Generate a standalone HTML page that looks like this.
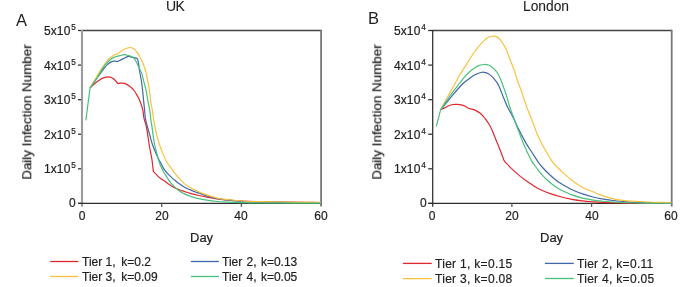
<!DOCTYPE html>
<html><head><meta charset="utf-8"><style>
html,body{margin:0;padding:0;background:#fff;}
body{width:685px;height:287px;position:relative;overflow:hidden;font-family:"Liberation Sans",sans-serif;color:#1e1e1e;}
svg{position:absolute;left:0;top:0;}
.t{position:absolute;white-space:nowrap;line-height:1;will-change:transform;-webkit-text-stroke:0.2px #1e1e1e;}
.t sup{font-size:8.2px;vertical-align:0;position:relative;top:-5.4px;margin-left:0.9px;line-height:0;letter-spacing:0;}
.ylab{transform:translate(-50%,-50%) rotate(-90deg);transform-origin:50% 50%;}
</style></head><body>
<svg width="685" height="287" viewBox="0 0 685 287">
<path d="M81.5 30.5 H321.9" fill="none" stroke="#454545" stroke-width="1.3"/>
<path d="M321.1 29.9 V206.6" stroke="#777" stroke-width="1.8"/>
<path d="M82.0 29.9 V206.7" stroke="#9c9c9c" stroke-width="2.1"/>
<path d="M78.0 203.4 H321.1" stroke="#2e2e2e" stroke-width="1.25"/>
<path d="M78.0 30.5 H81.0" stroke="#2e2e2e" stroke-width="1.25"/>
<path d="M78.0 65.1 H81.0" stroke="#2e2e2e" stroke-width="1.25"/>
<path d="M78.0 99.7 H81.0" stroke="#2e2e2e" stroke-width="1.25"/>
<path d="M78.0 134.2 H81.0" stroke="#2e2e2e" stroke-width="1.25"/>
<path d="M78.0 168.8 H81.0" stroke="#2e2e2e" stroke-width="1.25"/>
<path d="M78.0 203.4 H81.0" stroke="#2e2e2e" stroke-width="1.25"/>
<path d="M161.7 203.4 V206.9" stroke="#5a5a5a" stroke-width="1.3"/>
<path d="M241.4 203.4 V206.9" stroke="#5a5a5a" stroke-width="1.3"/>
<path d="M431.7 30.5 H672.1" fill="none" stroke="#454545" stroke-width="1.3"/>
<path d="M671.7 29.9 V206.6" stroke="#777" stroke-width="1.8"/>
<path d="M432.7 29.9 V206.7" stroke="#2e2e2e" stroke-width="1.25"/>
<path d="M428.2 203.4 H671.3" stroke="#2e2e2e" stroke-width="1.25"/>
<path d="M428.2 30.5 H432.2" stroke="#2e2e2e" stroke-width="1.25"/>
<path d="M428.2 65.1 H432.2" stroke="#2e2e2e" stroke-width="1.25"/>
<path d="M428.2 99.7 H432.2" stroke="#2e2e2e" stroke-width="1.25"/>
<path d="M428.2 134.2 H432.2" stroke="#2e2e2e" stroke-width="1.25"/>
<path d="M428.2 168.8 H432.2" stroke="#2e2e2e" stroke-width="1.25"/>
<path d="M428.2 203.4 H432.2" stroke="#2e2e2e" stroke-width="1.25"/>
<path d="M511.9 203.4 V206.9" stroke="#5a5a5a" stroke-width="1.3"/>
<path d="M591.6 203.4 V206.9" stroke="#5a5a5a" stroke-width="1.3"/>
<path d="M90.10 87.80 C91.73 86.27 93.37 84.55 95.00 83.20 C96.63 81.85 98.38 80.63 99.90 79.70 C101.42 78.77 102.70 78.07 104.10 77.60 C105.50 77.13 107.02 76.88 108.30 76.90 C109.58 76.92 110.75 77.23 111.80 77.70 C112.85 78.17 113.60 78.72 114.60 79.70 C115.60 80.68 116.73 82.30 117.80 83.60 C118.60 83.47 119.33 83.27 120.20 83.20 C121.07 83.13 121.83 82.97 123.00 83.20 C124.17 83.43 125.92 83.95 127.20 84.60 C128.48 85.25 129.62 86.20 130.70 87.10 C131.78 88.00 132.62 88.58 133.70 90.00 C134.78 91.42 136.15 93.73 137.20 95.60 C138.25 97.47 139.07 98.80 140.00 101.20 C140.93 103.60 142.15 107.23 142.80 110.00 C143.45 112.77 143.33 115.13 143.90 117.80 C144.47 120.47 145.53 123.00 146.20 126.00 C146.87 129.00 147.42 132.80 147.90 135.80 C148.38 138.80 148.60 141.00 149.10 144.00 C149.60 147.00 150.42 151.13 150.90 153.80 C151.38 156.47 151.58 157.03 152.00 160.00 C152.42 162.97 152.93 167.73 153.40 171.60 C154.67 172.87 156.10 174.35 157.20 175.40 C158.30 176.45 158.83 177.00 160.00 177.90 C161.17 178.80 162.92 179.88 164.20 180.80 C165.48 181.72 166.48 182.55 167.70 183.40 C168.92 184.25 169.78 184.93 171.50 185.90 C173.22 186.87 175.75 188.23 178.00 189.20 C180.25 190.17 182.67 190.93 185.00 191.70 C187.33 192.47 189.67 193.17 192.00 193.80 C194.33 194.43 196.53 194.95 199.00 195.50 C201.47 196.05 203.75 196.53 206.80 197.10 C209.85 197.67 213.80 198.38 217.30 198.90 C220.80 199.42 223.68 199.82 227.80 200.20 C231.92 200.58 236.63 200.93 242.00 201.20 C247.37 201.47 253.67 201.65 260.00 201.80 C266.33 201.95 273.33 202.01 280.00 202.10 C286.67 202.19 293.17 202.28 300.00 202.35 C306.83 202.42 314.00 202.45 321.00 202.50" fill="none" stroke="#e3272e" stroke-width="1.2" stroke-linejoin="round"/>
<path d="M90.10 87.80 C92.90 83.87 96.28 79.08 98.50 76.00 C100.72 72.92 101.88 71.23 103.40 69.30 C104.92 67.37 106.20 65.68 107.60 64.40 C109.00 63.12 110.63 62.17 111.80 61.60 C112.97 61.03 113.67 61.20 114.60 61.00 C115.53 61.20 116.47 61.40 117.40 61.60 C118.57 61.03 119.62 60.53 120.90 59.90 C122.18 59.27 123.82 58.38 125.10 57.80 C126.38 57.22 127.55 56.52 128.60 56.40 C129.65 56.28 129.97 56.77 131.40 57.10 C132.83 57.43 135.27 57.97 137.20 58.40 C137.53 59.37 137.85 59.53 138.20 61.30 C138.55 63.07 138.95 66.72 139.30 69.00 C139.65 71.28 140.00 73.33 140.30 75.00 C140.60 76.67 140.80 77.17 141.10 79.00 C141.40 80.83 141.82 83.83 142.10 86.00 C142.38 88.17 142.57 89.70 142.80 92.00 C143.03 94.30 143.20 96.80 143.50 99.80 C143.80 102.80 144.30 107.00 144.60 110.00 C144.90 113.00 144.87 115.13 145.30 117.80 C145.73 120.47 146.42 123.00 147.20 126.00 C147.98 129.00 149.15 132.80 150.00 135.80 C150.85 138.80 151.28 141.00 152.30 144.00 C153.32 147.00 154.93 151.05 156.10 153.80 C157.27 156.55 158.38 158.72 159.30 160.50 C160.22 162.28 160.78 163.02 161.60 164.50 C162.42 165.98 162.95 167.62 164.20 169.40 C165.45 171.18 167.47 173.50 169.10 175.20 C170.73 176.90 172.42 178.25 174.00 179.60 C175.58 180.95 176.77 181.98 178.60 183.30 C180.43 184.62 182.77 186.28 185.00 187.50 C187.23 188.72 189.67 189.67 192.00 190.60 C194.33 191.53 196.67 192.27 199.00 193.10 C201.33 193.93 202.95 194.68 206.00 195.60 C209.05 196.52 213.67 197.87 217.30 198.60 C220.93 199.33 223.68 199.55 227.80 200.00 C231.92 200.45 236.63 200.98 242.00 201.30 C247.37 201.62 253.67 201.73 260.00 201.90 C266.33 202.07 269.83 202.18 280.00 202.30 C290.17 202.42 307.33 202.50 321.00 202.60" fill="none" stroke="#4068a8" stroke-width="1.2" stroke-linejoin="round"/>
<path d="M90.10 87.80 C92.43 83.87 95.12 79.32 97.10 76.00 C99.08 72.68 100.48 70.18 102.00 67.90 C103.52 65.62 105.03 63.82 106.20 62.30 C107.37 60.78 108.00 59.78 109.00 58.80 C110.00 57.82 111.33 57.07 112.20 56.40 C113.07 55.73 113.53 55.33 114.20 54.80 C115.13 54.57 116.07 54.53 117.00 54.10 C117.93 53.67 118.75 52.93 119.80 52.20 C120.85 51.47 122.13 50.37 123.30 49.70 C124.47 49.03 125.75 48.57 126.80 48.20 C127.85 47.83 128.55 47.48 129.60 47.50 C130.65 47.52 132.03 47.75 133.10 48.30 C134.17 48.85 135.07 49.75 136.00 50.80 C136.93 51.85 137.87 53.20 138.70 54.60 C139.53 56.00 140.15 57.38 141.00 59.20 C141.85 61.02 142.95 63.27 143.80 65.50 C144.65 67.73 145.45 70.00 146.10 72.60 C146.75 75.20 147.13 78.20 147.70 81.10 C148.27 84.00 149.03 86.88 149.50 90.00 C149.97 93.12 150.03 96.47 150.50 99.80 C150.97 103.13 151.82 107.00 152.30 110.00 C152.78 113.00 152.93 114.80 153.40 117.80 C153.87 120.80 154.50 125.00 155.10 128.00 C155.70 131.00 156.30 133.13 157.00 135.80 C157.70 138.47 158.40 141.23 159.30 144.00 C160.20 146.77 161.35 149.73 162.40 152.40 C163.45 155.07 164.65 158.07 165.60 160.00 C166.55 161.93 167.17 162.63 168.10 164.00 C169.03 165.37 170.10 166.68 171.20 168.20 C172.30 169.72 173.42 171.47 174.70 173.10 C175.98 174.73 177.32 176.25 178.90 178.00 C180.48 179.75 182.02 181.85 184.20 183.60 C186.38 185.35 189.53 187.10 192.00 188.50 C194.47 189.90 196.53 190.93 199.00 192.00 C201.47 193.07 203.75 193.88 206.80 194.90 C209.85 195.92 213.80 197.32 217.30 198.10 C220.80 198.88 223.68 199.12 227.80 199.60 C231.92 200.08 236.63 200.67 242.00 201.00 C247.37 201.33 253.67 201.43 260.00 201.60 C266.33 201.77 273.33 201.88 280.00 202.00 C286.67 202.12 293.17 202.22 300.00 202.30 C306.83 202.38 314.00 202.43 321.00 202.50" fill="none" stroke="#f8c23e" stroke-width="1.2" stroke-linejoin="round"/>
<path d="M85.80 120.30 C87.23 109.47 88.67 98.63 90.10 87.80 C92.80 83.87 96.10 79.25 98.20 76.00 C100.30 72.75 101.25 70.47 102.70 68.30 C104.15 66.13 105.62 64.47 106.90 63.00 C108.18 61.53 109.23 60.43 110.40 59.50 C111.57 58.57 112.73 57.95 113.90 57.40 C115.07 56.85 116.35 56.50 117.40 56.20 C118.45 55.90 118.98 55.87 120.20 55.60 C121.42 55.33 123.33 54.62 124.70 54.60 C126.07 54.58 127.35 55.20 128.40 55.50 C129.45 55.80 130.10 55.98 131.00 56.40 C131.90 56.82 132.95 57.15 133.80 58.00 C134.65 58.85 135.25 59.90 136.10 61.50 C136.95 63.10 137.98 65.70 138.90 67.60 C139.82 69.50 140.77 70.53 141.60 72.90 C142.43 75.27 143.17 78.95 143.90 81.80 C144.63 84.65 145.37 87.00 146.00 90.00 C146.63 93.00 147.10 96.63 147.70 99.80 C148.30 102.97 149.12 106.00 149.60 109.00 C150.08 112.00 150.20 114.80 150.60 117.80 C151.00 120.80 151.57 124.00 152.00 127.00 C152.43 130.00 152.77 132.88 153.20 135.80 C153.63 138.72 154.05 141.73 154.60 144.50 C155.15 147.27 155.83 149.82 156.50 152.40 C157.17 154.98 157.90 157.72 158.60 160.00 C159.30 162.28 159.88 164.15 160.70 166.10 C161.52 168.05 162.45 169.83 163.50 171.70 C164.55 173.57 165.68 175.32 167.00 177.30 C168.32 179.28 169.57 181.50 171.40 183.60 C173.23 185.70 175.73 188.15 178.00 189.90 C180.27 191.65 182.67 192.93 185.00 194.10 C187.33 195.27 190.12 196.23 192.00 196.90 C193.88 197.57 193.83 197.55 196.30 198.10 C198.77 198.65 203.30 199.63 206.80 200.20 C210.30 200.77 213.80 201.18 217.30 201.50 C220.80 201.82 223.68 201.92 227.80 202.10 C231.92 202.28 236.63 202.45 242.00 202.60 C247.37 202.75 246.83 202.92 260.00 203.00 C273.17 203.08 300.67 203.07 321.00 203.10" fill="none" stroke="#48c17a" stroke-width="1.2" stroke-linejoin="round"/>
<path d="M440.60 109.80 C441.90 109.17 443.15 108.57 444.50 107.90 C445.85 107.23 447.30 106.37 448.70 105.80 C450.10 105.23 451.50 104.75 452.90 104.50 C454.30 104.25 455.70 104.25 457.10 104.30 C458.50 104.35 460.02 104.52 461.30 104.80 C462.58 105.08 463.63 105.42 464.80 106.00 C465.97 106.58 467.07 107.77 468.30 108.30 C469.53 108.83 470.92 108.82 472.20 109.20 C473.48 109.58 474.72 109.97 476.00 110.60 C477.28 111.23 478.62 111.97 479.90 113.00 C481.18 114.03 482.72 115.70 483.70 116.80 C484.68 117.90 484.93 118.40 485.80 119.60 C486.67 120.80 487.93 122.43 488.90 124.00 C489.87 125.57 490.80 127.33 491.60 129.00 C492.40 130.67 492.97 132.17 493.70 134.00 C494.43 135.83 495.20 138.00 496.00 140.00 C496.80 142.00 497.62 143.83 498.50 146.00 C499.38 148.17 500.42 150.67 501.30 153.00 C502.18 155.33 502.97 157.67 503.80 160.00 C504.27 160.70 504.38 161.17 505.20 162.10 C506.02 163.03 507.82 164.68 508.70 165.60 C509.58 166.52 509.03 166.22 510.50 167.60 C511.97 168.98 515.75 172.35 517.50 173.90 C519.25 175.45 519.37 175.62 521.00 176.90 C522.63 178.18 525.90 180.60 527.30 181.60 C528.70 182.60 527.95 181.95 529.40 182.90 C530.85 183.85 534.15 186.17 536.00 187.30 C537.85 188.43 538.00 188.60 540.50 189.70 C543.00 190.80 547.50 192.68 551.00 193.90 C554.50 195.12 558.00 196.10 561.50 197.00 C565.00 197.90 568.48 198.65 572.00 199.30 C575.52 199.95 579.08 200.48 582.60 200.90 C586.12 201.32 589.87 201.57 593.10 201.80 C596.33 202.03 597.52 202.13 602.00 202.30 C606.48 202.47 612.83 202.67 620.00 202.80 C627.17 202.93 636.42 203.02 645.00 203.10 C653.58 203.18 662.67 203.23 671.50 203.30" fill="none" stroke="#e3272e" stroke-width="1.2" stroke-linejoin="round"/>
<path d="M440.60 109.80 C444.37 105.20 448.25 100.30 451.90 96.00 C455.55 91.70 459.63 86.88 462.50 84.00 C465.37 81.12 466.95 80.28 469.10 78.70 C471.25 77.12 473.42 75.53 475.40 74.50 C477.38 73.47 479.53 72.87 481.00 72.50 C482.47 72.13 482.97 72.10 484.20 72.30 C485.43 72.50 487.00 72.88 488.40 73.70 C489.80 74.52 491.32 75.92 492.60 77.20 C493.88 78.48 495.05 79.93 496.10 81.40 C497.15 82.87 497.63 83.23 498.90 86.00 C500.17 88.77 502.20 94.37 503.70 98.00 C505.20 101.63 506.45 104.80 507.90 107.80 C509.35 110.80 510.83 112.88 512.40 116.00 C513.97 119.12 515.85 123.50 517.30 126.50 C518.75 129.50 519.65 131.23 521.10 134.00 C522.55 136.77 524.23 140.10 526.00 143.10 C527.77 146.10 529.70 148.88 531.70 152.00 C533.70 155.12 536.12 159.13 538.00 161.80 C539.88 164.47 541.00 165.80 543.00 168.00 C545.00 170.20 547.43 172.67 550.00 175.00 C552.57 177.33 555.48 179.95 558.40 182.00 C561.32 184.05 565.23 186.02 567.50 187.30 C569.77 188.58 569.48 188.60 572.00 189.70 C574.52 190.80 579.08 192.68 582.60 193.90 C586.12 195.12 589.87 196.17 593.10 197.00 C596.33 197.83 599.10 198.37 602.00 198.90 C604.90 199.43 606.45 199.72 610.50 200.20 C614.55 200.68 620.55 201.40 626.30 201.80 C632.05 202.20 637.47 202.38 645.00 202.60 C652.53 202.82 662.67 202.93 671.50 203.10" fill="none" stroke="#4068a8" stroke-width="1.2" stroke-linejoin="round"/>
<path d="M440.60 109.80 C443.07 105.20 445.63 100.30 448.00 96.00 C450.37 91.70 452.80 87.58 454.80 84.00 C456.80 80.42 458.02 77.83 460.00 74.50 C461.98 71.17 464.73 67.08 466.70 64.00 C468.67 60.92 470.52 58.00 471.80 56.00 C473.08 54.00 473.27 53.55 474.40 52.00 C475.53 50.45 477.08 48.52 478.60 46.70 C480.12 44.88 481.87 42.67 483.50 41.10 C485.13 39.53 486.88 38.12 488.40 37.30 C489.92 36.48 491.32 36.35 492.60 36.20 C493.88 36.05 494.93 35.93 496.10 36.40 C497.27 36.87 498.43 37.75 499.60 39.00 C500.77 40.25 502.03 42.27 503.10 43.90 C504.17 45.53 505.30 47.45 506.00 48.80 C506.70 50.15 506.72 50.47 507.30 52.00 C507.88 53.53 508.37 55.03 509.50 58.00 C510.63 60.97 512.82 66.13 514.10 69.80 C515.38 73.47 516.10 76.78 517.20 80.00 C518.30 83.22 519.62 86.10 520.70 89.10 C521.78 92.10 522.68 95.00 523.70 98.00 C524.72 101.00 525.70 104.10 526.80 107.10 C527.90 110.10 529.08 112.88 530.30 116.00 C531.52 119.12 532.95 122.80 534.10 125.80 C535.25 128.80 535.98 131.12 537.20 134.00 C538.42 136.88 539.87 140.10 541.40 143.10 C542.93 146.10 544.63 149.00 546.40 152.00 C548.17 155.00 550.05 158.43 552.00 161.10 C553.95 163.77 556.10 165.92 558.10 168.00 C560.10 170.08 561.62 171.50 564.00 173.60 C566.38 175.70 569.35 178.32 572.40 180.60 C575.45 182.88 578.85 185.43 582.30 187.30 C585.75 189.17 590.15 190.53 593.10 191.80 C596.05 193.07 597.10 193.85 600.00 194.90 C602.90 195.95 607.00 197.22 610.50 198.10 C614.00 198.98 617.50 199.68 621.00 200.20 C624.50 200.72 627.12 200.88 631.50 201.20 C635.88 201.52 640.63 201.87 647.30 202.10 C653.97 202.33 663.43 202.43 671.50 202.60" fill="none" stroke="#f8c23e" stroke-width="1.2" stroke-linejoin="round"/>
<path d="M436.30 126.30 C437.73 120.80 439.17 115.30 440.60 109.80 C443.67 105.20 446.73 100.30 449.80 96.00 C452.87 91.70 456.60 87.12 459.00 84.00 C461.40 80.88 462.28 79.47 464.20 77.30 C466.12 75.13 468.83 72.48 470.50 71.00 C472.17 69.52 473.03 69.22 474.20 68.40 C475.37 67.58 475.87 66.75 477.50 66.10 C479.13 65.45 482.22 64.68 484.00 64.50 C485.78 64.32 487.12 64.75 488.20 65.00 C489.28 65.25 489.53 65.37 490.50 66.00 C491.47 66.63 492.83 67.63 494.00 68.80 C495.17 69.97 496.45 71.37 497.50 73.00 C498.55 74.63 499.37 76.43 500.30 78.60 C501.23 80.77 502.27 83.77 503.10 86.00 C503.93 88.23 504.62 90.00 505.30 92.00 C505.98 94.00 506.42 95.37 507.20 98.00 C507.98 100.63 509.02 104.80 510.00 107.80 C510.98 110.80 512.00 113.00 513.10 116.00 C514.20 119.00 515.50 122.80 516.60 125.80 C517.70 128.80 518.60 131.12 519.70 134.00 C520.80 136.88 521.95 140.10 523.20 143.10 C524.45 146.10 525.78 149.00 527.20 152.00 C528.62 155.00 530.12 158.43 531.70 161.10 C533.28 163.77 535.05 165.80 536.70 168.00 C538.35 170.20 539.62 172.08 541.60 174.30 C543.58 176.52 546.15 179.13 548.60 181.30 C551.05 183.47 554.15 185.82 556.30 187.30 C558.45 188.78 558.88 188.93 561.50 190.20 C564.12 191.47 568.48 193.58 572.00 194.90 C575.52 196.22 579.08 197.22 582.60 198.10 C586.12 198.98 589.87 199.68 593.10 200.20 C596.33 200.72 597.35 200.82 602.00 201.20 C606.65 201.58 613.83 202.18 621.00 202.50 C628.17 202.82 636.58 202.97 645.00 203.10 C653.42 203.23 662.67 203.23 671.50 203.30" fill="none" stroke="#48c17a" stroke-width="1.2" stroke-linejoin="round"/>
<path d="M50.2 261.5 H78.3" stroke="#e3272e" stroke-width="1.3"/>
<path d="M50.2 276.5 H78.3" stroke="#f8c23e" stroke-width="1.3"/>
<path d="M190.9 261.5 H218.9" stroke="#4068a8" stroke-width="1.3"/>
<path d="M190.9 276.5 H218.9" stroke="#48c17a" stroke-width="1.3"/>
<path d="M402.9 263.4 H431.8" stroke="#e3272e" stroke-width="1.3"/>
<path d="M402.9 278.6 H431.8" stroke="#f8c23e" stroke-width="1.3"/>
<path d="M544.9 263.4 H573.8" stroke="#4068a8" stroke-width="1.3"/>
<path d="M544.9 278.5 H573.8" stroke="#48c17a" stroke-width="1.3"/>
</svg>
<div class="t" style="left:15.60px;top:11.83px;font-size:16.5px;-webkit-text-stroke:0">A</div>
<div class="t" style="left:367.90px;top:10.13px;font-size:16.5px;-webkit-text-stroke:0">B</div>
<div class="t" style="left:166.00px;top:-0.55px;font-size:14px;-webkit-text-stroke:0.1px;letter-spacing:-0.6px">UK</div>
<div class="t" style="left:523.20px;top:-0.28px;font-size:13.8px;-webkit-text-stroke:0.1px">London</div>
<div class="t" style="right:609.30px;top:25.14px;font-size:12px;letter-spacing:0.1px">5x10<sup>5</sup></div>
<div class="t" style="right:609.30px;top:59.72px;font-size:12px;letter-spacing:0.1px">4x10<sup>5</sup></div>
<div class="t" style="right:609.30px;top:94.30px;font-size:12px;letter-spacing:0.1px">3x10<sup>5</sup></div>
<div class="t" style="right:609.30px;top:128.88px;font-size:12px;letter-spacing:0.1px">2x10<sup>5</sup></div>
<div class="t" style="right:609.30px;top:163.46px;font-size:12px;letter-spacing:0.1px">1x10<sup>5</sup></div>
<div class="t" style="right:609.00px;top:197.24px;font-size:12px;">0</div>
<div class="t" style="left:82.00px;top:209.84px;font-size:12px;transform:translateX(-50%);">0</div>
<div class="t" style="left:161.70px;top:209.84px;font-size:12px;transform:translateX(-50%);">20</div>
<div class="t" style="left:241.40px;top:209.84px;font-size:12px;transform:translateX(-50%);">40</div>
<div class="t" style="left:321.10px;top:209.84px;font-size:12px;transform:translateX(-50%);">60</div>
<div class="t" style="left:189.90px;top:231.30px;font-size:13px;">Day</div>
<div class="t ylab" style="left:26.60px;top:112.1px;font-size:13.4px">Daily Infection Number</div>
<div class="t" style="right:259.10px;top:25.14px;font-size:12px;letter-spacing:0.1px">5x10<sup>4</sup></div>
<div class="t" style="right:259.10px;top:59.72px;font-size:12px;letter-spacing:0.1px">4x10<sup>4</sup></div>
<div class="t" style="right:259.10px;top:94.30px;font-size:12px;letter-spacing:0.1px">3x10<sup>4</sup></div>
<div class="t" style="right:259.10px;top:128.88px;font-size:12px;letter-spacing:0.1px">2x10<sup>4</sup></div>
<div class="t" style="right:259.10px;top:163.46px;font-size:12px;letter-spacing:0.1px">1x10<sup>4</sup></div>
<div class="t" style="right:258.80px;top:197.24px;font-size:12px;">0</div>
<div class="t" style="left:432.20px;top:209.84px;font-size:12px;transform:translateX(-50%);">0</div>
<div class="t" style="left:511.90px;top:209.84px;font-size:12px;transform:translateX(-50%);">20</div>
<div class="t" style="left:591.60px;top:209.84px;font-size:12px;transform:translateX(-50%);">40</div>
<div class="t" style="left:671.30px;top:209.84px;font-size:12px;transform:translateX(-50%);">60</div>
<div class="t" style="left:540.10px;top:231.30px;font-size:13px;">Day</div>
<div class="t ylab" style="left:376.80px;top:112.1px;font-size:13.4px">Daily Infection Number</div>
<div class="t" style="left:82.00px;top:256.14px;font-size:12px;">Tier 1,&nbsp;&thinsp;k=0.2</div>
<div class="t" style="left:82.00px;top:270.64px;font-size:12px;">Tier 3,&nbsp;&thinsp;k=0.09</div>
<div class="t" style="left:222.40px;top:256.14px;font-size:12px;word-spacing:1px">Tier 2, k=0.13</div>
<div class="t" style="left:222.40px;top:270.64px;font-size:12px;word-spacing:1px">Tier 4, k=0.05</div>
<div class="t" style="left:435.00px;top:257.54px;font-size:12px;letter-spacing:0.3px">Tier 1, k=0.15</div>
<div class="t" style="left:435.00px;top:272.54px;font-size:12px;letter-spacing:0.3px">Tier 3, k=0.08</div>
<div class="t" style="left:577.00px;top:257.54px;font-size:12px;letter-spacing:0.3px">Tier 2, k=0.11</div>
<div class="t" style="left:577.00px;top:272.54px;font-size:12px;letter-spacing:0.3px">Tier 4, k=0.05</div>
</body></html>
